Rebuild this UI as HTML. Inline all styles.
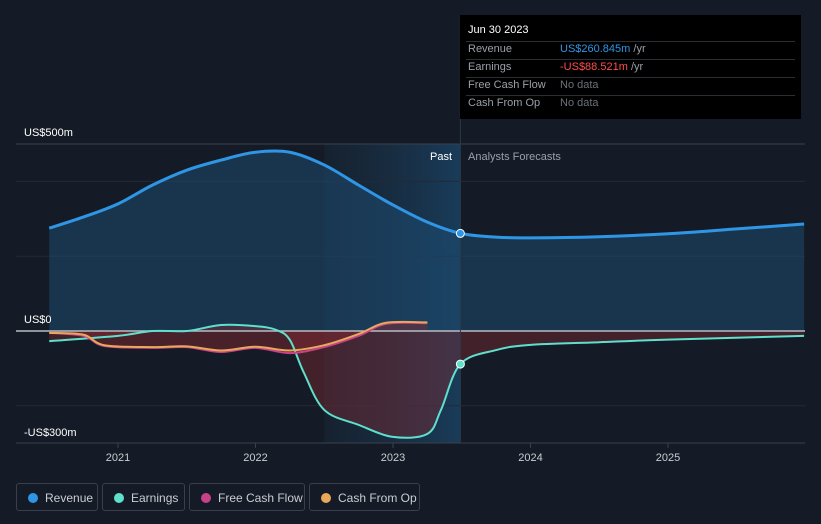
<!DOCTYPE html>
<html><head><meta charset="utf-8"><style>
body{margin:0;background:#151b26;font-family:"Liberation Sans",sans-serif;}
#wrap{position:relative;width:821px;height:524px;overflow:hidden;background:#151b26}
.lg{position:absolute;top:483px;height:28px;border:1px solid #3a404b;border-radius:3px;color:#c9ccd1;font-size:12px;line-height:28px;box-sizing:border-box;padding-left:28px}
.lg i{position:absolute;left:11px;top:9px;width:10px;height:10px;border-radius:50%}
#tip{position:absolute;left:460px;top:15px;width:341px;height:104px;background:#000;color:#9aa0a8;font-size:11px}
#tip div{position:absolute;left:8px}
#tip .v{left:100px}
#tip .ln{position:absolute;left:6px;right:6px;height:1px;background:#2a2f36}
</style></head><body>
<div id="wrap">
<svg id="svg" width="821" height="524"></svg>
<div id="tip">
<div style="top:9px;color:#fff;font-size:11px">Jun 30 2023</div>
<div class="ln" style="top:26px"></div>
<div style="top:28px">Revenue</div><div class="v" style="top:28px;color:#2f96e6">US$260.845m <span style="color:#9aa0a8">/yr</span></div>
<div class="ln" style="top:44px"></div>
<div style="top:46px">Earnings</div><div class="v" style="top:46px;color:#ff4d4d">-US$88.521m <span style="color:#9aa0a8">/yr</span></div>
<div class="ln" style="top:62px"></div>
<div style="top:64px">Free Cash Flow</div><div class="v" style="top:64px;color:#6c717a">No data</div>
<div class="ln" style="top:80px"></div>
<div style="top:82px">Cash From Op</div><div class="v" style="top:82px;color:#6c717a">No data</div>
</div>
<div class="lg" style="left:16px;width:82px"><i style="background:#2f96e6"></i>Revenue</div>
<div class="lg" style="left:102px;width:83px"><i style="background:#5fe0cc"></i>Earnings</div>
<div class="lg" style="left:189px;width:116px"><i style="background:#c8428a"></i>Free Cash Flow</div>
<div class="lg" style="left:309px;width:111px"><i style="background:#e8a85a"></i>Cash From Op</div>
</div>
<script>
const revT=[2020.5,2020.75,2021,2021.25,2021.5,2021.75,2022,2022.25,2022.5,2022.75,2023,2023.25,2023.49,2023.75,2024,2024.5,2025,2025.5,2025.99];
const revV=[275,305,340,390,430,457,478,478,444,390,337,291,261,251,249,252,260,273,286];
const earT=[2020.5,2021,2021.25,2021.5,2021.75,2022,2022.15,2022.25,2022.35,2022.5,2022.75,2023,2023.25,2023.35,2023.49,2023.75,2024,2024.5,2025,2025.99];
const earV=[-27,-13,0,0,16,13,3,-24,-110,-211,-251,-283,-275,-210,-88.5,-51,-37,-30,-23,-13];
const fcfT=[2020.5,2020.75,2020.9,2021.25,2021.5,2021.75,2022,2022.25,2022.5,2022.75,2022.95,2023.25];
const fcfV=[-5,-13,-40,-45,-43,-56,-45,-59,-43,-13,19,21];
const cfoV=[-5,-10,-38,-43,-41,-52,-42,-52,-38,-8,22,23];
const yTicks=[500,0,-300];const yLab=["US$500m","US$0","-US$300m"];
const xTicks=[2021,2022,2023,2024,2025];
const X=t=>118+(t-2021)*137.5, Y=v=>331-v*0.374;
const svg=document.getElementById('svg');const NS='http://www.w3.org/2000/svg';
function el(tag,a,p){const e=document.createElementNS(NS,tag);for(const k in a)e.setAttribute(k,a[k]);(p||svg).appendChild(e);return e;}
function path(ts,vs){const p=ts.map((t,i)=>[X(t),Y(vs[i])]);let d='M'+p[0];for(let i=0;i<p.length-1;i++){const a=p[i-1]||p[i],b=p[i],c=p[i+1],e=p[i+2]||c;d+=`C${b[0]+(c[0]-a[0])/6},${b[1]+(c[1]-a[1])/6} ${c[0]-(e[0]-b[0])/6},${c[1]-(e[1]-b[1])/6} ${c[0]},${c[1]}`;}return d;}
const defs=el('defs',{});
const g=el('linearGradient',{id:'pg',x1:0,x2:1,y1:0,y2:0},defs);el('stop',{offset:0,'stop-color':'#1b3a55','stop-opacity':0.2},g);el('stop',{offset:1,'stop-color':'#1b4a70','stop-opacity':0.7},g);
let r=el('rect',{x:X(2022.5),y:144,width:X(2023.49)-X(2022.5),height:299,fill:'url(#pg)'});
[400,200,-200].forEach(v=>{let l=el('line',{x1:16,x2:805,y1:Y(v),y2:Y(v),stroke:'#232a36'});});
let ln=el('line',{x1:16,x2:805,y1:144,y2:144,stroke:'#3a404b'});
let ax=el('line',{x1:16,x2:805,y1:443,y2:443,stroke:'#3a404b'});
const rp=path(revT,revV);
let ra=el('path',{d:rp+`L${X(revT[revT.length-1])},${Y(0)}L${X(revT[0])},${Y(0)}Z`,fill:'#1e4a70',opacity:0.55});
const ep=path(earT,earV);
let ea=el('path',{d:ep+`L${X(earT[earT.length-1])},${Y(0)}L${X(earT[0])},${Y(0)}Z`,fill:'#7a2a33',opacity:0.45});
let fa=el('path',{d:path(fcfT,fcfV)+`L${X(2023.25)},${Y(0)}L${X(2020.5)},${Y(0)}Z`,fill:'#8a2a30',opacity:0.45});
let z=el('line',{x1:16,x2:805,y1:Y(0),y2:Y(0),stroke:'#b8bcc2','stroke-width':1.5});
let dv=el('line',{x1:X(2023.49),x2:X(2023.49),y1:15,y2:443,stroke:'#2a3a4a'});
let l1=el('path',{d:ep,fill:'none',stroke:'#5fe0cc','stroke-width':2});
let l2=el('path',{d:path(fcfT,fcfV),fill:'none',stroke:'#c8428a','stroke-width':2});
let l3=el('path',{d:path(fcfT,cfoV),fill:'none',stroke:'#e8a85a','stroke-width':2});
let l4=el('path',{d:rp,fill:'none',stroke:'#2f96e6','stroke-width':3});
let d1=el('circle',{cx:X(2023.49),cy:Y(261),r:4,fill:'#2f96e6',stroke:'#fff','stroke-width':1});
let d2=el('circle',{cx:X(2023.49),cy:Y(-88.5),r:4,fill:'#5fe0cc',stroke:'#fff','stroke-width':1});
yTicks.forEach((v,i)=>{let t=el('text',{x:24,y:Y(v)-8,fill:'#fff','font-size':11});t.textContent=yLab[i];if(v==-300)t.setAttribute('y',436);});
xTicks.forEach(v=>{let t=el('text',{x:X(v),y:461,fill:'#c9ccd1','font-size':11,'text-anchor':'middle'});t.textContent=v;
let k=el('line',{x1:X(v),x2:X(v),y1:443,y2:448,stroke:'#3a404b'});});
let p1=el('text',{x:452,y:160,fill:'#fff','font-size':11,'text-anchor':'end'});p1.textContent='Past';
let p2=el('text',{x:468,y:160,fill:'#9aa0a8','font-size':11});p2.textContent='Analysts Forecasts';
</script>
</body></html>
